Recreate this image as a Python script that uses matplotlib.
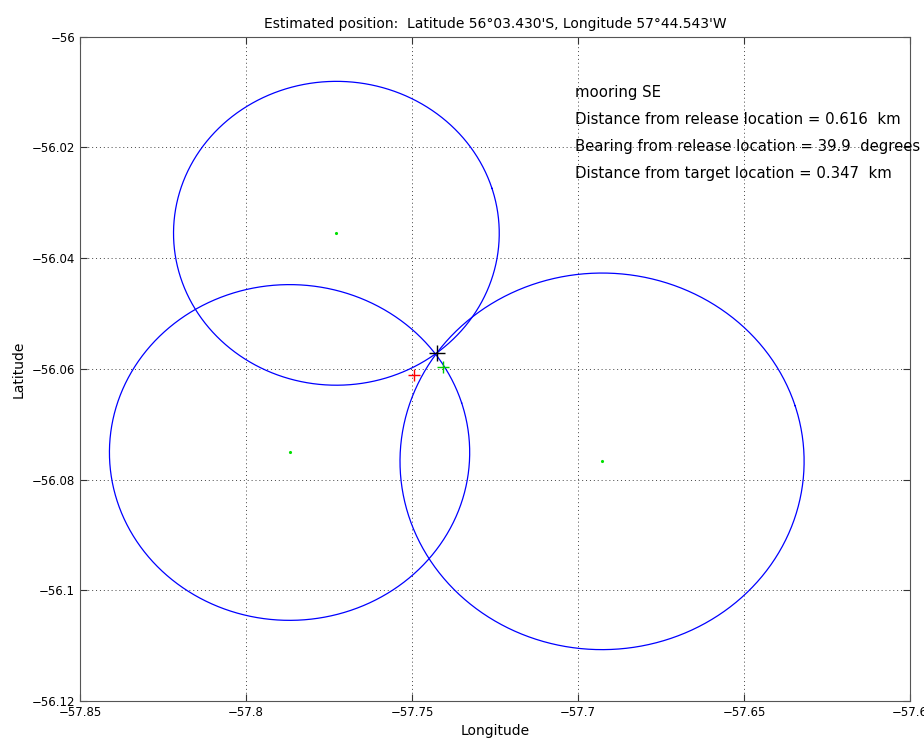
import numpy as np
import matplotlib.pyplot as plt
from matplotlib.ticker import FuncFormatter

# transponder positions (lon, lat) and horizontal ranges in km
station_lon = [-57.7728, -57.7869, -57.6928]
station_lat = [-56.0355, -56.0751, -56.0767]
range_km = [3.05, 3.37, 3.78]

est_lon, est_lat = -57.7424, -56.0572      # estimated position (black)
release_lon, release_lat = -57.7493, -56.0611  # release location (red)
target_lon, target_lat = -57.7406, -56.0597    # target location (green)

title = "Estimated position:  Latitude 56\u00b003.430'S, Longitude 57\u00b044.543'W"
info_lines = ["mooring SE",
              "Distance from release location = 0.616  km",
              "Bearing from release location = 39.9  degrees",
              "Distance from target location = 0.347  km"]

plt.rcParams['font.family'] = ['DejaVu Sans']
fig = plt.figure(figsize=(9.24, 7.43), dpi=100)
ax = fig.add_axes([0.0866, 0.0565, 0.8985, 0.894])

theta = np.linspace(0.3, 0.3 + 2 * np.pi, 500)
for lon0, lat0, r in zip(station_lon, station_lat, range_km):
    dlat = r / 111.12
    dlon = r / (111.32 * np.cos(np.radians(lat0)))
    ax.plot(lon0 + dlon * np.cos(theta), lat0 + dlat * np.sin(theta),
            color='#0000ff', lw=0.9)
    ax.plot(lon0, lat0, '.', color='#00e000', ms=2.5)

ax.plot(release_lon, release_lat, '+', color='red', ms=8, mew=1)
ax.plot(target_lon, target_lat, '+', color='#00cc00', ms=8, mew=1)
ax.plot(est_lon, est_lat, '+', color='black', ms=11, mew=1)

ax.set_xlim(-57.85, -57.6)
ax.set_ylim(-56.12, -56.0)
ax.set_xticks(np.arange(-57.85, -57.599, 0.05))
ax.set_yticks(np.arange(-56.12, -55.999, 0.02))
fmt = FuncFormatter(lambda v, p: ('%g' % round(v, 4)).replace('-', '\u2212'))
ax.xaxis.set_major_formatter(fmt)
ax.yaxis.set_major_formatter(fmt)
ax.tick_params(direction='in', top=True, right=True, labelsize=8.5, length=5,
               color='#333333')
for s in ax.spines.values():
    s.set_color('#555555')
ax.grid(True, linestyle=(0, (1, 3)), color='#444444', lw=0.7)

ax.set_xlabel('Longitude', fontsize=10)
ax.set_ylabel('Latitude', fontsize=10)
ax.set_title(title, fontsize=10, pad=6)

for i, line in enumerate(info_lines):
    ax.text(-57.701, -56.0100 - 0.0049 * i, line, fontsize=10.7, va='center', ha='left')

fig.savefig('out.png', dpi=100)
